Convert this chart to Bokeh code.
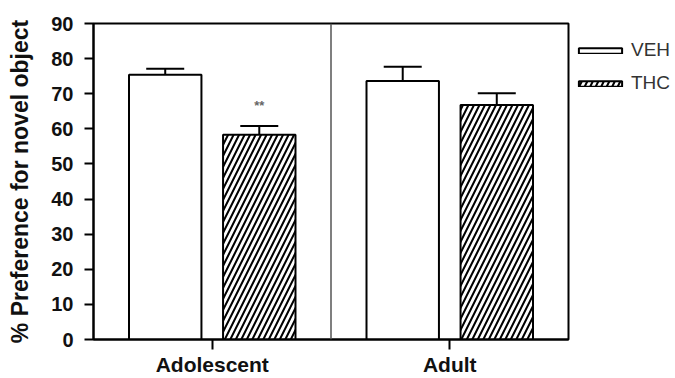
from bokeh.plotting import figure
from bokeh.models import (ColumnDataSource, FactorRange, Range1d, Whisker, TeeHead,
                          Span, Legend, LegendItem, FixedTicker)
from bokeh.transform import dodge
from bokeh.embed import file_html
from bokeh.resources import INLINE
from bokeh.core.properties import value

# ---- data ----
groups = ["Adolescent", "Adult"]
series = ["VEH", "THC"]
veh_mean = [75.4, 73.6]
veh_sem = [1.7, 4.1]
thc_mean = [58.3, 66.8]
thc_sem = [2.5, 3.3]
sig_marks = ["**", ""]
y_ticks = [0, 10, 20, 30, 40, 50, 60, 70, 80, 90]

FONT = "Liberation Sans"
OFF = 0.198
BW = 0.305

src = ColumnDataSource(dict(
    group=groups,
    veh=veh_mean,
    veh_up=[m + s for m, s in zip(veh_mean, veh_sem)],
    thc=thc_mean,
    thc_up=[m + s for m, s in zip(thc_mean, thc_sem)],
    sig=sig_marks,
    sig_y=[m + s + 5.8 for m, s in zip(thc_mean, thc_sem)],
))

p = figure(x_range=FactorRange(factors=groups, range_padding=0),
           y_range=Range1d(0, 90),
           frame_width=475, frame_height=316,
           output_backend="svg", toolbar_location=None,
           min_border_left=93, min_border_right=100, min_border_top=23,
           min_border_bottom=39)
p.background_fill_color = "white"
p.border_fill_color = "white"
p.outline_line_color = "black"
p.outline_line_width = 2
p.xgrid.visible = False
p.ygrid.visible = False

r_veh = p.vbar(x=dodge("group", -OFF, range=p.x_range), top="veh", width=BW,
               source=src, fill_color="white", line_color="black", line_width=2)
r_thc = p.vbar(x=dodge("group", OFF, range=p.x_range), top="thc", width=BW,
               source=src, fill_color="white", line_color="black", line_width=2,
               hatch_pattern="/", hatch_color="black", hatch_weight=2,
               hatch_scale=11)

for col, off in (("veh", -OFF), ("thc", OFF)):
    w = Whisker(base=dodge("group", off, range=p.x_range), lower=col,
                upper=col + "_up", source=src, line_color="black", line_width=2,
                upper_head=TeeHead(size=38, line_width=2, line_color="black"),
                lower_head=None)
    p.add_layout(w)

p.text(x=dodge("group", OFF, range=p.x_range), y="sig_y", text="sig", source=src,
       text_font=value(FONT), text_font_size="13px", text_font_style="bold",
       text_color="#666666", text_align="center", text_baseline="middle")

p.add_layout(Span(location=1.0, dimension="height", line_color="#555555",
                  line_width=1.5))

# axes
p.yaxis.ticker = FixedTicker(ticks=y_ticks)
for ax in (p.xaxis, p.yaxis):
    ax.axis_line_width = 2
    ax.axis_line_color = "black"
    ax.major_tick_line_width = 2
    ax.major_tick_line_color = "black"
    ax.major_tick_in = 0
    ax.minor_tick_line_color = None
    ax.major_label_text_font = FONT
    ax.major_label_text_font_style = "bold"
    ax.major_label_text_color = "#111111"
p.yaxis.major_label_text_font_size = "20px"
p.xaxis.major_label_text_font_size = "21px"
p.yaxis.major_tick_out = 9
p.yaxis.major_label_standoff = 11
p.xaxis.major_tick_out = 10
p.xaxis.major_label_standoff = 3
p.yaxis.axis_label = "% Preference for novel object"
p.yaxis.axis_label_text_font = FONT
p.yaxis.axis_label_text_font_style = "bold"
p.yaxis.axis_label_text_font_size = "23px"
p.yaxis.axis_label_text_color = "#111111"
p.yaxis.axis_label_standoff = 15

legend = Legend(items=[LegendItem(label=series[0], renderers=[r_veh]),
                       LegendItem(label=series[1], renderers=[r_thc])],
                location="top_left", orientation="vertical",
                title=" ", title_text_font_size="8px", title_standoff=2,
                glyph_width=54, glyph_height=7, label_height=7,
                spacing=11, padding=0, margin=5, label_standoff=4,
                label_text_font=FONT, label_text_font_size="19px",
                label_text_color="#333333",
                border_line_color=None, background_fill_alpha=0)
p.add_layout(legend, "right")

open("out.html", "w").write(file_html(p, INLINE))
